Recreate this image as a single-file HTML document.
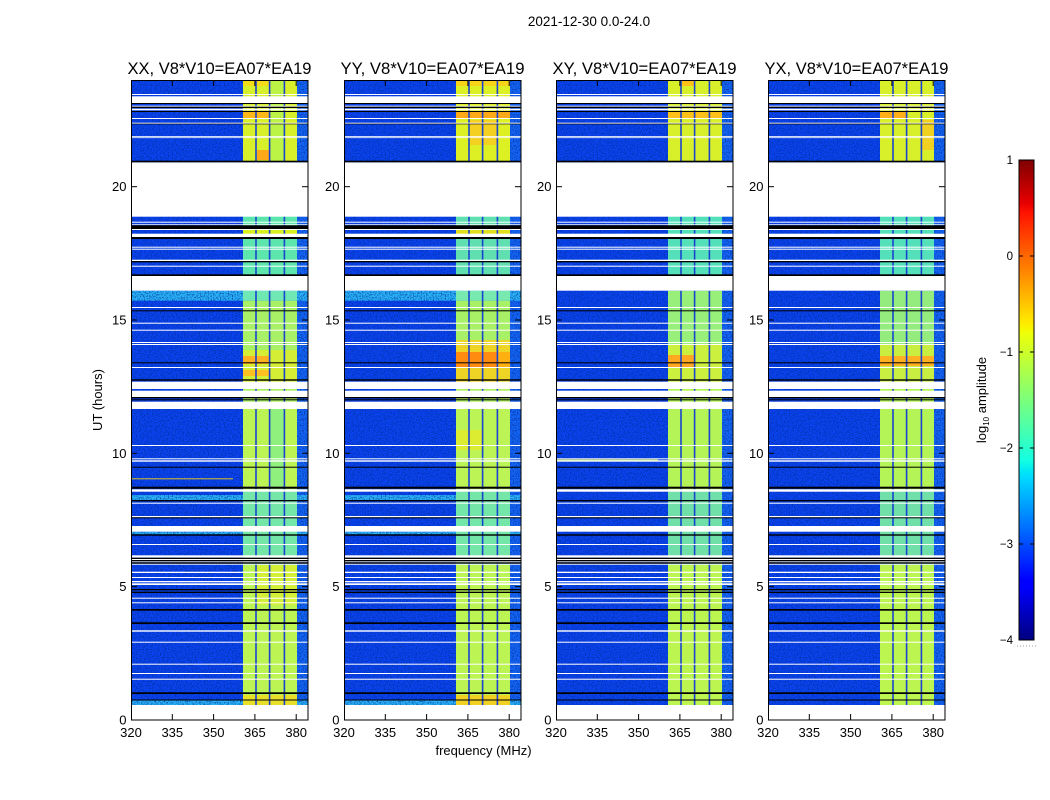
<!DOCTYPE html>
<html><head><meta charset="utf-8"><style>html,body{margin:0;padding:0;background:#fff}svg{display:block}</style></head>
<body>
<svg width="1050" height="800" viewBox="0 0 1050 800" xmlns="http://www.w3.org/2000/svg" xmlns:xlink="http://www.w3.org/1999/xlink" font-family="'Liberation Sans', 'DejaVu Sans', sans-serif">
<defs>
<linearGradient id="jet" x1="0" y1="1" x2="0" y2="0">
<stop offset="0" stop-color="#00007f"/><stop offset="0.11" stop-color="#0000ff"/><stop offset="0.125" stop-color="#0000ff"/>
<stop offset="0.34" stop-color="#00dbff"/><stop offset="0.35" stop-color="#00e6f7"/><stop offset="0.375" stop-color="#14ffe2"/>
<stop offset="0.64" stop-color="#efff08"/><stop offset="0.65" stop-color="#f7f500"/><stop offset="0.66" stop-color="#ffec00"/>
<stop offset="0.89" stop-color="#ff1300"/><stop offset="0.91" stop-color="#e80000"/><stop offset="1" stop-color="#7f0000"/>
</linearGradient>
<filter id="nz" x="0" y="0" width="100%" height="100%">
<feTurbulence type="fractalNoise" baseFrequency="0.75" numOctaves="1" seed="7"/>
<feColorMatrix type="matrix" values="0 0 0 0 0  0 0 0 0 0.02  0 0 0 0 0.25  0 0 0 2.2 -0.95"/>
</filter>
<g id="base">
<rect x="0" y="80" width="177" height="625" fill="#0a44f2"/>
<rect x="166" y="80" width="11" height="625" fill="#1466f8"/>
</g>
<g id="cyan">
<rect x="0" y="290.7" width="177" height="10" fill="#2ab4fa"/>
<rect x="0" y="495" width="177" height="5" fill="#2ab4fa"/>
<rect x="0" y="531.7" width="177" height="2.6" fill="#2ab4fa"/>
<rect x="0" y="700" width="177" height="5" fill="#2ab4fa"/>
</g>
<g id="sep" fill="#1a44d0">
<rect x="124.2" y="80" width="1.6" height="625"/>
<rect x="137.8" y="80" width="1.6" height="625"/>
<rect x="152.6" y="80" width="1.6" height="625"/>
</g>
<g id="noise">
<rect x="0" y="80" width="112" height="625" fill="#000" filter="url(#nz)"/>
<rect x="166" y="80" width="11" height="625" fill="#000" filter="url(#nz)"/>
</g>
<g id="flags">
<g fill="#ffffff">
<rect x="0" y="94" width="177" height="1"/>
<rect x="0" y="96.3" width="177" height="6.7"/>
<rect x="0" y="105.7" width="177" height="1"/>
<rect x="0" y="108.7" width="177" height="1.6"/>
<rect x="0" y="118" width="177" height="1"/>
<rect x="0" y="122.7" width="177" height="1"/>
<rect x="0" y="136" width="177" height="0.8"/>
<rect x="0" y="137.3" width="177" height="0.8"/>
<rect x="0" y="162.3" width="177" height="54.4"/>
<rect x="0" y="221.7" width="177" height="1"/>
<rect x="0" y="224.3" width="177" height="0.8"/>
<rect x="0" y="229" width="177" height="1"/>
<rect x="0" y="233.7" width="177" height="3.3"/>
<rect x="0" y="246.7" width="177" height="1"/>
<rect x="0" y="248.7" width="177" height="1"/>
<rect x="0" y="259.7" width="177" height="1.3"/>
<rect x="0" y="265.7" width="177" height="1"/>
<rect x="0" y="276" width="177" height="14.7"/>
<rect x="0" y="307" width="177" height="1"/>
<rect x="0" y="322.7" width="177" height="1"/>
<rect x="0" y="329.7" width="177" height="1"/>
<rect x="0" y="342" width="177" height="1"/>
<rect x="0" y="344" width="177" height="1"/>
<rect x="0" y="367" width="177" height="1"/>
<rect x="0" y="381.7" width="177" height="7.3"/>
<rect x="0" y="390.7" width="177" height="6.3"/>
<rect x="0" y="401.7" width="177" height="7.3"/>
<rect x="0" y="445" width="177" height="1"/>
<rect x="0" y="458.3" width="177" height="1"/>
<rect x="0" y="460.3" width="177" height="1.4"/>
<rect x="0" y="489.3" width="177" height="2.4"/>
<rect x="0" y="502.7" width="177" height="1"/>
<rect x="0" y="516" width="177" height="1.3"/>
<rect x="0" y="526" width="177" height="5.7"/>
<rect x="0" y="544" width="177" height="1"/>
<rect x="0" y="555.3" width="177" height="2.4"/>
<rect x="0" y="559" width="177" height="1"/>
<rect x="0" y="561.3" width="177" height="1"/>
<rect x="0" y="563.7" width="177" height="1"/>
<rect x="0" y="571.7" width="177" height="1.3"/>
<rect x="0" y="577" width="177" height="1"/>
<rect x="0" y="581" width="177" height="1.3"/>
<rect x="0" y="583.3" width="177" height="1.7"/>
<rect x="0" y="597.7" width="177" height="1"/>
<rect x="0" y="602.3" width="177" height="1"/>
<rect x="0" y="630.3" width="177" height="1.4"/>
<rect x="0" y="641.7" width="177" height="1"/>
<rect x="0" y="663.7" width="177" height="1"/>
<rect x="0" y="673" width="177" height="1"/>
<rect x="0" y="678.7" width="177" height="1"/>
</g>
<g fill="#000000">
<rect x="0" y="103" width="177" height="1"/>
<rect x="0" y="106.7" width="177" height="1.3"/>
<rect x="0" y="111" width="177" height="1"/>
<rect x="0" y="123.7" width="177" height="0.6"/>
<rect x="0" y="160.7" width="177" height="1.6"/>
<rect x="0" y="225.3" width="177" height="3.7"/>
<rect x="0" y="237" width="177" height="2"/>
<rect x="0" y="261" width="177" height="1.3"/>
<rect x="0" y="274.3" width="177" height="1.7"/>
<rect x="0" y="310.3" width="177" height="1"/>
<rect x="0" y="362.3" width="177" height="1"/>
<rect x="0" y="379.3" width="177" height="1.4"/>
<rect x="0" y="397" width="177" height="1.3"/>
<rect x="0" y="399.3" width="177" height="1"/>
<rect x="0" y="466.7" width="177" height="1"/>
<rect x="0" y="486.7" width="177" height="2"/>
<rect x="0" y="500" width="177" height="1.3"/>
<rect x="0" y="517.3" width="177" height="1"/>
<rect x="0" y="534.3" width="177" height="1.4"/>
<rect x="0" y="557.7" width="177" height="1.3"/>
<rect x="0" y="560" width="177" height="1.3"/>
<rect x="0" y="562.3" width="177" height="1.4"/>
<rect x="0" y="589" width="177" height="1.3"/>
<rect x="0" y="591.7" width="177" height="1.3"/>
<rect x="0" y="609" width="177" height="1.7"/>
<rect x="0" y="622.3" width="177" height="1.7"/>
<rect x="0" y="692.3" width="177" height="1.7"/>
<rect x="0" y="699.5" width="177" height="1"/>
</g>
</g>
<g id="axes">
<rect x="0.5" y="80.5" width="176.5" height="639.5" fill="none" stroke="#000" stroke-width="1"/>
<g stroke="#000" stroke-width="1">
<line x1="41.3" y1="720" x2="41.3" y2="714"/><line x1="82.6" y1="720" x2="82.6" y2="714"/><line x1="123.9" y1="720" x2="123.9" y2="714"/><line x1="165.2" y1="720" x2="165.2" y2="714"/>
<line x1="41.3" y1="80" x2="41.3" y2="86"/><line x1="82.6" y1="80" x2="82.6" y2="86"/><line x1="123.9" y1="80" x2="123.9" y2="86"/><line x1="165.2" y1="80" x2="165.2" y2="86"/>
<line x1="0" y1="586.7" x2="6" y2="586.7"/><line x1="0" y1="453.3" x2="6" y2="453.3"/><line x1="0" y1="320" x2="6" y2="320"/><line x1="0" y1="186.7" x2="6" y2="186.7"/>
<line x1="177" y1="586.7" x2="171" y2="586.7"/><line x1="177" y1="453.3" x2="171" y2="453.3"/><line x1="177" y1="320" x2="171" y2="320"/><line x1="177" y1="186.7" x2="171" y2="186.7"/>
</g>
<g font-size="13" fill="#000" text-anchor="middle">
<text x="0" y="737">320</text><text x="41.3" y="737">335</text><text x="82.6" y="737">350</text><text x="123.9" y="737">365</text><text x="165.2" y="737">380</text>
</g>
<g font-size="13" fill="#000" text-anchor="end">
<text x="-4.5" y="724.5">0</text><text x="-4.5" y="591">5</text><text x="-4.5" y="457.8">10</text><text x="-4.5" y="324.5">15</text><text x="-4.5" y="191.2">20</text>
</g>
</g>
</defs>

<text x="589" y="26" font-size="13.5" text-anchor="middle" fill="#000">2021-12-30 0.0-24.0</text>

<!-- Panel 1 XX -->
<g transform="translate(131,0)">
<use xlink:href="#base"/>
<use xlink:href="#cyan"/>
<rect x="112" y="80" width="54" height="81" fill="#d8f02a"/>
<rect x="139.5" y="80" width="13" height="81" fill="#bcf446"/>
<rect x="112" y="80" width="26" height="6" fill="#f4dc18"/>
<rect x="112" y="112" width="26" height="6" fill="#ffb818"/>
<rect x="126" y="150" width="12" height="10" fill="#ffa818"/>
<rect x="112" y="216" width="54" height="60" fill="#5ce6ae"/>
<rect x="112" y="230" width="54" height="4" fill="#d8f020"/>
<rect x="112" y="290.7" width="54" height="10" fill="#70e8b4"/>
<rect x="112" y="300.7" width="54" height="50" fill="#a8f066"/>
<rect x="112" y="350" width="54" height="32" fill="#d4ee36"/>
<rect x="112" y="356" width="26" height="8" fill="#ffb020"/>
<rect x="112" y="370" width="26" height="6" fill="#ffc020"/>
<rect x="112" y="389" width="54" height="20" fill="#acf060"/>
<rect x="112" y="409" width="54" height="81" fill="#bcf454"/>
<rect x="139.5" y="409" width="13" height="81" fill="#90f07e"/>
<rect x="112" y="490" width="54" height="75" fill="#74e6a8"/>
<rect x="112" y="565" width="54" height="140" fill="#bcf454"/>
<rect x="126" y="565" width="40" height="40" fill="#d4f036"/>
<rect x="112" y="695" width="54" height="10" fill="#e8e028"/>
<use xlink:href="#noise"/>
<rect x="0" y="478.3" width="102" height="1" fill="#e0c020"/>
<use xlink:href="#sep"/>
<use xlink:href="#flags"/>
<use xlink:href="#axes"/>
<text x="88.5" y="74" font-size="16.5" text-anchor="middle" fill="#000" textLength="184" lengthAdjust="spacingAndGlyphs">XX, V8*V10=EA07*EA19</text>
</g>

<!-- Panel 2 YY -->
<g transform="translate(344,0)">
<use xlink:href="#base"/>
<use xlink:href="#cyan"/>
<rect x="112" y="80" width="54" height="81" fill="#dcf024"/>
<rect x="112" y="80" width="54" height="6" fill="#f8d418"/>
<rect x="112" y="112" width="54" height="6" fill="#ffa818"/>
<rect x="126" y="120" width="27" height="25" fill="#f4d020"/>
<rect x="112" y="216" width="54" height="60" fill="#60e0b0"/>
<rect x="112" y="230" width="54" height="4" fill="#e0e020"/>
<rect x="112" y="290.7" width="54" height="10" fill="#78eab0"/>
<rect x="112" y="300.7" width="54" height="40" fill="#a8f066"/>
<rect x="112" y="340" width="54" height="42" fill="#eed424"/>
<rect x="112" y="352" width="41" height="16" fill="#ff8c10"/>
<rect x="154" y="352" width="12" height="16" fill="#ffb010"/>
<rect x="112" y="389" width="54" height="20" fill="#b0f060"/>
<rect x="112" y="409" width="54" height="81" fill="#bcf456"/>
<rect x="112" y="430" width="26" height="20" fill="#dcec30"/>
<rect x="112" y="490" width="54" height="75" fill="#74e6a8"/>
<rect x="112" y="565" width="54" height="140" fill="#bcf454"/>
<rect x="112" y="695" width="54" height="10" fill="#f0d020"/>
<use xlink:href="#noise"/>
<use xlink:href="#sep"/>
<use xlink:href="#flags"/>
<use xlink:href="#axes"/>
<text x="88.5" y="74" font-size="16.5" text-anchor="middle" fill="#000" textLength="184" lengthAdjust="spacingAndGlyphs">YY, V8*V10=EA07*EA19</text>
</g>

<!-- Panel 3 XY -->
<g transform="translate(556,0)">
<use xlink:href="#base"/>
<rect x="112" y="80" width="54" height="81" fill="#d8f02a"/>
<rect x="126" y="80" width="12" height="6" fill="#ffc018"/>
<rect x="112" y="112" width="54" height="6" fill="#ffc018"/>
<rect x="112" y="216" width="54" height="60" fill="#54e0b8"/>
<rect x="112" y="290.7" width="54" height="55" fill="#98f07a"/>
<rect x="112" y="345" width="54" height="37" fill="#ccf03e"/>
<rect x="112" y="355" width="26" height="13" fill="#ffa820"/>
<rect x="112" y="389" width="54" height="101" fill="#b4f456"/>
<rect x="112" y="490" width="54" height="75" fill="#70e0a8"/>
<rect x="112" y="565" width="54" height="140" fill="#bcf450"/>
<use xlink:href="#noise"/>
<rect x="0" y="459.5" width="102" height="1" fill="#c0e040"/>
<use xlink:href="#sep"/>
<use xlink:href="#flags"/>
<use xlink:href="#axes"/>
<text x="88.5" y="74" font-size="16.5" text-anchor="middle" fill="#000" textLength="184" lengthAdjust="spacingAndGlyphs">XY, V8*V10=EA07*EA19</text>
</g>

<!-- Panel 4 YX -->
<g transform="translate(768,0)">
<use xlink:href="#base"/>
<rect x="112" y="80" width="54" height="81" fill="#d8f02a"/>
<rect x="112" y="112" width="26" height="6" fill="#ffb018"/>
<rect x="154" y="120" width="12" height="30" fill="#f0d020"/>
<rect x="112" y="216" width="54" height="60" fill="#54e0b8"/>
<rect x="112" y="290.7" width="54" height="55" fill="#94ec7e"/>
<rect x="112" y="345" width="54" height="37" fill="#c8ee42"/>
<rect x="112" y="356" width="54" height="10" fill="#ffb020"/>
<rect x="112" y="389" width="54" height="101" fill="#b4f456"/>
<rect x="112" y="490" width="54" height="75" fill="#70e0a8"/>
<rect x="112" y="565" width="54" height="140" fill="#bcf450"/>
<use xlink:href="#noise"/>
<use xlink:href="#sep"/>
<use xlink:href="#flags"/>
<use xlink:href="#axes"/>
<text x="88.5" y="74" font-size="16.5" text-anchor="middle" fill="#000" textLength="184" lengthAdjust="spacingAndGlyphs">YX, V8*V10=EA07*EA19</text>
</g>

<text x="0" y="0" font-size="13" text-anchor="middle" fill="#000" transform="translate(102,400) rotate(-90)">UT (hours)</text>
<text x="483.5" y="755" font-size="13" text-anchor="middle" fill="#000">frequency (MHz)</text>

<!-- Colorbar -->
<rect x="1019" y="160" width="15" height="480" fill="url(#jet)" stroke="#000" stroke-width="1"/>
<g stroke="#000" stroke-width="1">
<line x1="1019" y1="256" x2="1023" y2="256"/><line x1="1034" y1="256" x2="1030" y2="256"/>
<line x1="1019" y1="352" x2="1023" y2="352"/><line x1="1034" y1="352" x2="1030" y2="352"/>
<line x1="1019" y1="448" x2="1023" y2="448"/><line x1="1034" y1="448" x2="1030" y2="448"/>
<line x1="1019" y1="544" x2="1023" y2="544"/><line x1="1034" y1="544" x2="1030" y2="544"/>
</g>
<g font-size="11.5" fill="#000" text-anchor="end">
<text x="1013" y="164">1</text><text x="1013" y="260">0</text><text x="1013" y="356">−1</text><text x="1013" y="452">−2</text><text x="1013" y="548">−3</text><text x="1013" y="644">−4</text>
</g>
<text transform="translate(986,400) rotate(-90)" font-size="13" text-anchor="middle" fill="#000">log<tspan font-size="8" dy="3">10</tspan><tspan dy="-3"> amplitude</tspan></text>
<line x1="1017" y1="646" x2="1036" y2="646" stroke="#999" stroke-width="1" stroke-dasharray="1,2"/>
</svg>
</body></html>
